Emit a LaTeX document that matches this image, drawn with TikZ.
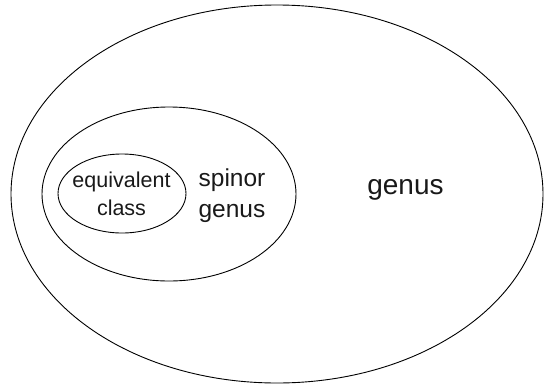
\documentclass[tikz,border=0pt]{standalone}
\usepackage{fontspec}
\setmainfont{Liberation Sans}
\begin{document}
\begin{tikzpicture}[x=1pt,y=-1pt,
  ring/.style={draw=black,line width=0.9pt},
  lbl/.style={inner sep=0pt,align=center,text=black!90}]
\useasboundingbox (0,0) rectangle (544,386);
\draw[ring] (277,194) ellipse [x radius=266, y radius=189];
\draw[ring] (169,194) ellipse [x radius=127, y radius=87];
\draw[ring] (122,193.5) ellipse [x radius=64, y radius=39.5];
\node[lbl,font=\fontsize{21.5}{27.5}\selectfont] (eq) at (121.5,194) {equivalent\\class};
\node[lbl,font=\fontsize{24.5}{31}\selectfont] (sp) at (232,196) {spinor\\genus};
\node[lbl,font=\fontsize{28}{34}\selectfont,anchor=base] (ge) at (405.5,194) {genus};
\end{tikzpicture}
\end{document}
